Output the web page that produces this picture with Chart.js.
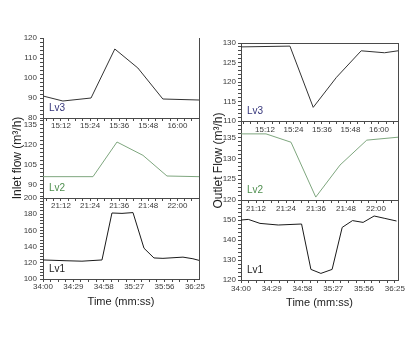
<!DOCTYPE html>
<html><head><meta charset="utf-8">
<script src="https://cdn.jsdelivr.net/npm/chart.js@4.4.1/dist/chart.umd.min.js"></script>
<style>
html,body{margin:0;padding:0;background:#fff;width:409px;height:343px;overflow:hidden}
canvas{position:absolute;left:0;top:0}
</style></head><body>
<canvas id="L3" width="409" height="343"></canvas>
<canvas id="L2" width="409" height="343"></canvas>
<canvas id="L1" width="409" height="343"></canvas>
<canvas id="R3" width="409" height="343"></canvas>
<canvas id="R2" width="409" height="343"></canvas>
<canvas id="R1" width="409" height="343"></canvas>
<script>
// ---------- DATA ----------
// Inlet flow, Lv3 (x: minutes after 15:00)
const inletLv3Min = [4.6, 12.8, 24.4, 34.2, 43.7, 54.0, 68.9];
const inletLv3Val = [91, 88.5, 90, 114.5, 105, 89.5, 89];
// Inlet flow, Lv2 (x: minutes after 21:00)
const inletLv2Min = [4.6, 25.2, 35.1, 45.8, 55.7, 68.9];
const inletLv2Val = [96, 96, 122, 112, 96.5, 96];
// Inlet flow, Lv1 (x: seconds after 34:00)
const inletLv1Sec = [0, 22.9, 37.2, 56.3, 65.8, 75.4, 85.9, 96.4, 105.9, 114.5, 133.6, 143.1, 148.9];
const inletLv1Val = [123.5, 122.5, 122, 123.5, 181.5, 181, 182, 138, 126, 125.5, 127, 125, 123];
// Outlet flow, Lv3 (x: minutes after 15:00)
const outletLv3Min = [1.9, 22.5, 32.3, 42.1, 52.5, 62.3, 68];
const outletLv3Val = [129, 129.2, 113.5, 121.2, 128, 127.5, 128];
// Outlet flow, Lv2 (x: minutes after 21:00)
const outletLv2Min = [6, 16, 26, 35.9, 45.6, 56.3, 68.8];
const outletLv2Val = [135.9, 135.9, 133.9, 120.7, 128.4, 134.4, 135.1];
// Outlet flow, Lv1 (x: seconds after 34:00)
const outletLv1Sec = [0, 6.9, 17.9, 35.1, 57.1, 65.9, 75.3, 85.9, 95.4, 105.1, 115.1, 125.5, 135.6, 146.6];
const outletLv1Val = [150, 150.3, 148.3, 147.5, 148, 125.3, 123.3, 125.3, 146.3, 149.7, 148.8, 152, 150.8, 149.5];

// Tick labels (major)
const clockTicksMin = [12, 24, 36, 48, 60];          // 15:12 ... 16:00 / 21:12 ... 22:00
const timeTicksSec = [0, 29, 58, 87, 116, 145];      // 34:00 ... 36:25
const inletLv3Ticks = [80, 90, 100, 110, 120];
const inletLv2Ticks = [90, 105, 120, 135];
const inletLv1Ticks = [100, 120, 140, 160, 180, 200];
const outletLv3Ticks = [110, 115, 120, 125, 130];
const outletLv2Ticks = [120, 125, 130, 135];
const outletLv1Ticks = [120, 130, 140, 150];
const levelNames = ['Lv3', 'Lv2', 'Lv1'];
const yTitles = ['Inlet flow (m\u00B3/h)', 'Outlet Flow (m\u00B3/h)'];
const xTitle = 'Time (mm:ss)';

// ---------- STYLE / LAYOUT ----------
Chart.defaults.font.family = '"Liberation Sans", Arial, sans-serif';
const AX = '#4a4a4a', TXT = '#3a3a3a';
const W = 409, H = 343;

function pad2(n){ return (n < 10 ? '0' : '') + n; }
function clockFmt(base){ return v => (base + Math.floor(v/60)) + ':' + pad2(Math.round(v % 60)); }
const secFmt = v => (34 + Math.floor(v/60)) + ':' + pad2(Math.round(v % 60));

function subdivide(min, max, majors, sub){
  const step = (majors[1] - majors[0]) / sub;
  let v = majors[0];
  while (v - step >= min - 1e-9) v -= step;
  const out = [];
  for (; v <= max + 1e-9; v += step) out.push(+v.toFixed(6));
  return out;
}
const isMajor = (list, v) => list.some(m => Math.abs(m - v) < 1e-6);

const lvPlugin = {
  id: 'lvlabel',
  afterDatasetsDraw(chart, args, opts){
    const {ctx, chartArea} = chart;
    ctx.save();
    ctx.font = '10px "Liberation Sans", Arial, sans-serif';
    ctx.fillStyle = opts.color;
    ctx.textBaseline = 'alphabetic';
    ctx.fillText(opts.text, chartArea.left + 6, chartArea.bottom - 7);
    ctx.restore();
  }
};
const framePlugin = {
  id: 'frame',
  afterDraw(chart, args, opts){
    const {ctx, chartArea: a} = chart;
    ctx.save();
    ctx.strokeStyle = AX; ctx.lineWidth = 1;
    ctx.beginPath();
    ctx.moveTo(Math.round(a.right) + 0.5, a.top);
    ctx.lineTo(Math.round(a.right) + 0.5, a.bottom);
    if (opts.top) { ctx.moveTo(a.left, Math.round(a.top) + 0.5); ctx.lineTo(a.right, Math.round(a.top) + 0.5); }
    ctx.stroke();
    ctx.restore();
  }
};

function panel(id, o){
  const xticks = subdivide(o.xmin, o.xmax, o.xmajors, 4);
  const yticks = subdivide(o.ymin, o.ymax, o.ymajors, o.ysub);
  new Chart(document.getElementById(id), {
    type: 'line',
    data: { datasets: [{
      data: o.xs.map((x, i) => ({x: x, y: o.ys[i]})),
      borderColor: o.color, borderWidth: 1, pointRadius: 0, tension: 0, fill: false
    }]},
    options: {
      responsive: false, animation: false, devicePixelRatio: 1,
      layout: { padding: { left: o.l - o.yW, top: o.t, right: W - o.r, bottom: H - o.b - o.xH } },
      plugins: {
        legend: {display: false}, tooltip: {enabled: false},
        lvlabel: {text: o.label, color: o.labelColor},
        frame: {top: !!o.frameTop}
      },
      scales: {
        x: {
          type: 'linear', min: o.xmin, max: o.xmax,
          afterFit(s){ s.height = o.xH; },
          afterBuildTicks(s){ s.ticks = xticks.map(v => ({value: v})); },
          grid: {drawOnChartArea: false, drawTicks: true, tickLength: 3, color: AX},
          border: {color: AX, width: 1},
          ticks: {autoSkip: false, maxRotation: 0, padding: o.xpad, font: {size: 8}, color: TXT,
                  callback: v => isMajor(o.xmajors, v) ? o.xfmt(v) : ''},
          title: o.xtitle ? {display: true, text: o.xtitle, color: '#222', font: {size: 11}, padding: {top: 0, bottom: 0}} : {display: false}
        },
        y: {
          type: 'linear', min: o.ymin, max: o.ymax,
          afterFit(s){ s.width = o.yW; },
          afterBuildTicks(s){ s.ticks = yticks.map(v => ({value: v})); },
          grid: {drawOnChartArea: false, drawTicks: true, tickLength: 3, color: AX},
          border: {color: AX, width: 1},
          ticks: {autoSkip: false, padding: o.ypad, font: {size: 8}, color: TXT,
                  callback: v => isMajor(o.ymajors, v) ? String(v) : ''},
          title: o.ytitle ? {display: true, text: o.ytitle, color: '#222', font: {size: 12}, padding: {top: o.ytpad, bottom: 0}} : {display: false}
        }
      }
    },
    plugins: [lvPlugin, framePlugin]
  });
}

const LEFT = {l: 43, r: 199, yW: 43, ypad: 3, ytpad: 10};
const RIGHT = {l: 241, r: 398, yW: 36, ypad: 2, ytpad: 6};
const C3 = {color: '#333333', labelColor: '#34347a'};
const C2 = {color: '#7ea67e', labelColor: '#4f8f4f'};
const C1 = {color: '#1a1a1a', labelColor: '#222222'};

panel('L3', Object.assign({}, LEFT, C3, {t: 38, b: 118, xH: 14, xpad: 0,
  xs: inletLv3Min, ys: inletLv3Val, xmin: 4.6, xmax: 68.9, xmajors: clockTicksMin, xfmt: clockFmt(15),
  ymin: 80, ymax: 120, ymajors: inletLv3Ticks, ysub: 5, label: levelNames[0]}));
panel('L2', Object.assign({}, LEFT, C2, {t: 118, b: 198, xH: 14, xpad: 0,
  xs: inletLv2Min, ys: inletLv2Val, xmin: 4.6, xmax: 68.9, xmajors: clockTicksMin, xfmt: clockFmt(21),
  ymin: 80, ymax: 140, ymajors: inletLv2Ticks, ysub: 5, label: levelNames[1], ytitle: yTitles[0]}));
panel('L1', Object.assign({}, LEFT, C1, {t: 198, b: 279, xH: 30, xpad: 0,
  xs: inletLv1Sec, ys: inletLv1Val, xmin: 0, xmax: 148.9, xmajors: timeTicksSec, xfmt: secFmt,
  ymin: 100, ymax: 200, ymajors: inletLv1Ticks, ysub: 5, label: levelNames[2], xtitle: xTitle}));

panel('R3', Object.assign({}, RIGHT, C3, {t: 43, b: 121, xH: 14, xpad: 1, frameTop: true,
  xs: outletLv3Min, ys: outletLv3Val, xmin: 1.9, xmax: 68, xmajors: clockTicksMin, xfmt: clockFmt(15),
  ymin: 110, ymax: 130, ymajors: outletLv3Ticks, ysub: 5, label: levelNames[0]}));
panel('R2', Object.assign({}, RIGHT, C2, {t: 121, b: 200, xH: 14, xpad: 1,
  xs: outletLv2Min, ys: outletLv2Val, xmin: 6, xmax: 68.8, xmajors: clockTicksMin, xfmt: clockFmt(21),
  ymin: 120, ymax: 139, ymajors: outletLv2Ticks, ysub: 5, label: levelNames[1], ytitle: yTitles[1]}));
panel('R1', Object.assign({}, RIGHT, C1, {t: 200, b: 280, xH: 30, xpad: 1,
  xs: outletLv1Sec, ys: outletLv1Val, xmin: 0, xmax: 148, xmajors: timeTicksSec, xfmt: secFmt,
  ymin: 120, ymax: 160, ymajors: outletLv1Ticks, ysub: 5, label: levelNames[2], xtitle: xTitle}));
</script>
</body></html>
